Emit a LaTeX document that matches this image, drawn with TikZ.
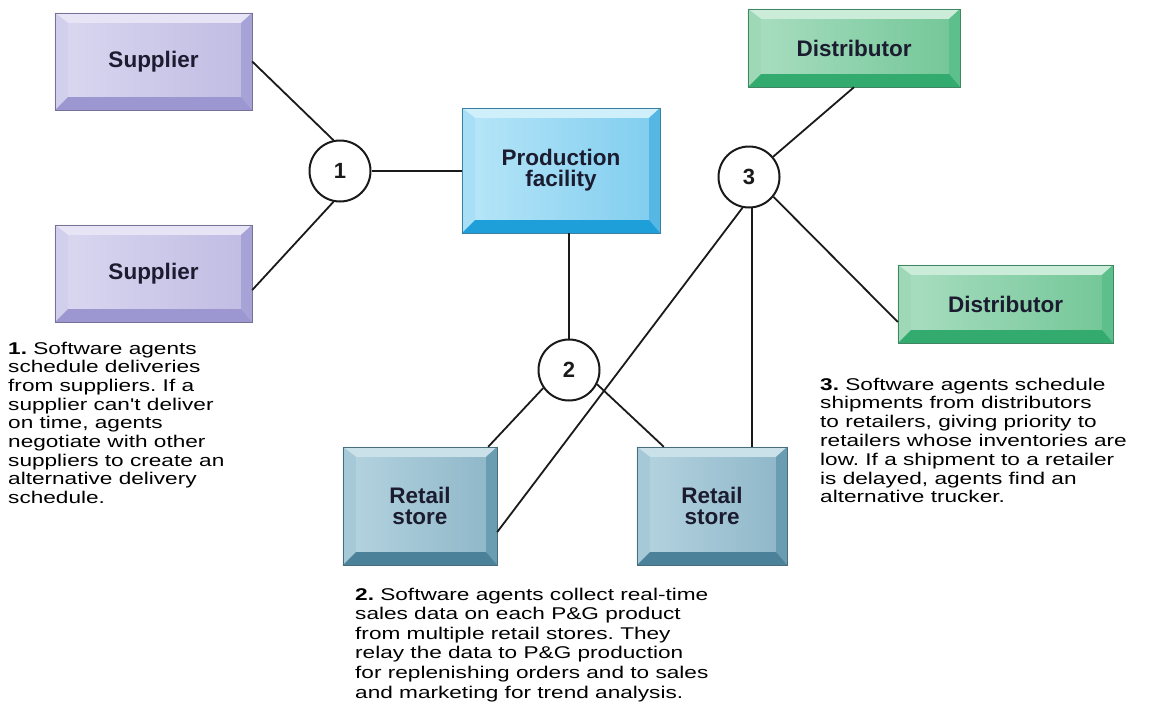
\documentclass[tikz,border=0pt]{standalone}
\usepackage{fontspec}
\setmainfont{Liberation Sans}
\newfontfamily\bodyfont[FakeStretch=1.33]{Liberation Sans}
\usetikzlibrary{calc}
\frenchspacing
\definecolor{supFaceL}{HTML}{DAD8F0}\definecolor{supFaceR}{HTML}{BFBBE3}
\definecolor{supTop}{HTML}{E6E4F5}\definecolor{supLeft}{HTML}{D2CFEC}
\definecolor{supRight}{HTML}{A8A3D6}\definecolor{supBot}{HTML}{9D97D1}
\definecolor{proFaceL}{HTML}{B8E6F8}\definecolor{proFaceR}{HTML}{7FCDEF}
\definecolor{proTop}{HTML}{CFEFFB}\definecolor{proLeft}{HTML}{A9DFF6}
\definecolor{proRight}{HTML}{56B7E4}\definecolor{proBot}{HTML}{1E9FD9}
\definecolor{retFaceL}{HTML}{B6D4E0}\definecolor{retFaceR}{HTML}{8DB6C8}
\definecolor{retTop}{HTML}{CBE1EA}\definecolor{retLeft}{HTML}{A6C9D7}
\definecolor{retRight}{HTML}{6A9CB2}\definecolor{retBot}{HTML}{4B8199}
\definecolor{disFaceL}{HTML}{AADEC1}\definecolor{disFaceR}{HTML}{72C697}
\definecolor{disTop}{HTML}{CAECD8}\definecolor{disLeft}{HTML}{9ED8B7}
\definecolor{disRight}{HTML}{5CBF8C}\definecolor{disBot}{HTML}{33AB6E}
\definecolor{labelInk}{HTML}{1C1C30}
\definecolor{lineInk}{HTML}{1A1A1A}
\newcommand\bevelbox[6]{%
  \node[boxlabel, minimum width=#3pt, minimum height=#4pt,
        left color=#5FaceL, right color=#5FaceR] (#1) at (#2) {#6};
  \fill[#5Top] (#1.north west) -- (#1.north east) -- ($(#1.north east)+(-11,10)$)
     -- ($(#1.north west)+(13,10)$) -- cycle;
  \fill[#5Left] (#1.north west) -- ($(#1.north west)+(13,10)$)
     -- ($(#1.south west)+(13,-13)$) -- (#1.south west) -- cycle;
  \fill[#5Right] (#1.north east) -- (#1.south east) -- ($(#1.south east)+(-11,-13)$)
     -- ($(#1.north east)+(-11,10)$) -- cycle;
  \fill[#5Bot] (#1.south west) -- (#1.south east) -- ($(#1.south east)+(-11,-13)$)
     -- ($(#1.south west)+(13,-13)$) -- cycle;
  \draw[#5Right!70!black, line width=0.6pt] (#1.north west) rectangle (#1.south east);
}
\begin{document}
\begin{tikzpicture}[x=1pt,y=-1pt,
  boxlabel/.style={rectangle, inner sep=0pt, align=center, text=labelInk,
    font=\fontsize{22.5}{21}\selectfont\bfseries},
  num/.style={circle, draw=lineInk, line width=2pt, fill=white, minimum size=61pt,
    inner sep=0pt, font=\fontsize{22}{22}\selectfont\bfseries, text=lineInk},
  link/.style={draw=lineInk, line width=1.8pt},
  para/.style={inner sep=0pt, anchor=base west, text=black}]
\useasboundingbox[fill=white] (0,0) rectangle (1161,723);

\bevelbox{s1}{153.5,61.5}{197}{97}{sup}{Supplier}
\bevelbox{s2}{153.5,273.5}{197}{97}{sup}{Supplier}
\bevelbox{prod}{561,170.5}{198}{125}{pro}{Production\\facility}
\bevelbox{d1}{854,48}{212}{78}{dis}{Distributor}
\bevelbox{d2}{1005.5,304}{215}{78}{dis}{Distributor}
\bevelbox{rl}{420,506}{154}{118}{ret}{Retail\\store}
\bevelbox{rr}{712,506}{150}{118}{ret}{Retail\\store}

\node[num] (c1) at (340,171) {1};
\node[num] (c2) at (569,370) {2};
\node[num] (c3) at (749,177) {3};

% connectors
\draw[link] (s1.east) -- (c1.102);
\draw[link] ($(s2.north east)!0.67!(s2.south east)$) -- (c1.258);
\draw[link] (c1.east) -- (prod.west |- c1.east);
\draw[link] (c2.north) -- (c2.north |- prod.south);
\draw[link] (c2.215) -- ($(rl.north east)+(-9,0)$);
\draw[link] (c2.-27) -- ($(rr.north west)+(27,0)$);
\draw[link] (c3.40) -- (d1.south);
\draw[link] (c3.-39) -- ($(d2.north west)!0.73!(d2.south west)$);
\draw[link] (c3.-84) -- (c3.-84 |- rr.north);
\draw[link] (c3.258) -- ($(rl.north east)!0.72!(rl.south east)$);

% captions
\node[para] (t1) at (8,354) {\parbox[t]{300pt}{\bodyfont\fontsize{17}{18.7}\selectfont\raggedright
\textbf{1.} Software agents\\
schedule deliveries\\
from suppliers. If a\\
supplier can't deliver\\
on time, agents\\
negotiate with other\\
suppliers to create an\\
alternative delivery\\
schedule.}};
\node[para] (t2) at (355,600) {\parbox[t]{400pt}{\bodyfont\fontsize{17}{19.6}\selectfont\raggedright
\textbf{2.} Software agents collect real-time\\
sales data on each P\&G product\\
from multiple retail stores. They\\
relay the data to P\&G production\\
for replenishing orders and to sales\\
and marketing for trend analysis.}};
\node[para] (t3) at (820,390) {\parbox[t]{340pt}{\bodyfont\fontsize{17}{18.8}\selectfont\raggedright
\textbf{3.} Software agents schedule\\
shipments from distributors\\
to retailers, giving priority to\\
retailers whose inventories are\\
low. If a shipment to a retailer\\
is delayed, agents find an\\
alternative trucker.}};
\end{tikzpicture}
\end{document}
